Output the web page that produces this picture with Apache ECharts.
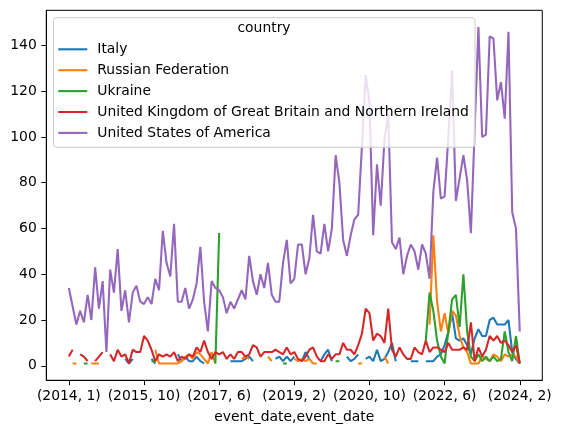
<!DOCTYPE html>
<html>
<head>
<meta charset="utf-8">
<script src="https://cdn.jsdelivr.net/npm/echarts@6/dist/echarts.min.js"></script>
<style>
  html, body { margin: 0; padding: 0; background: #fff; }
  #chart { width: 561px; height: 433px; }
</style>
</head>
<body>
<div id="chart"></div>
<script>
// monthly counts, positions 0..120 along the (year, month) index
var tickPositions = [0, 20, 40, 60, 80, 100, 120];
var tickLabels = ['(2014, 1)', '(2015, 10)', '(2017, 6)', '(2019, 2)', '(2020, 10)', '(2022, 6)', '(2024, 2)'];
var yTicks = [0, 20, 40, 60, 80, 100, 120, 140];
var countries = ['Italy', 'Russian Federation', 'Ukraine',
  'United Kingdom of Great Britain and Northern Ireland', 'United States of America'];
var colors = ['#1f77b4', '#ff7f0e', '#2ca02c', '#d62728', '#9467bd'];

var italy = [
  null, null, null, null, null, null, null, null, null, null,
  null, null, null, null, null, 3, 1, 3, null, null,
  null, null, 3, 1, null, null, null, null, null, 5,
  2, 4, 2, 2, 4, 2, 1, null, null, null,
  null, null, null, 2, 2, 2, 2, 3, 4, 2,
  null, null, null, null, null, 3, 4, 2, 4, 2,
  4, null, 2, 6, 3, null, null, 2, 5, 7,
  2, null, null, null, 4, 2, 3, 5, null, 3,
  4, 2, 7, 2, 3, 6, 10, 2, null, null,
  null, 2, 2, 2, null, 2, 2, 2, 4, 5,
  9, 15, 23, 12, 11, 12, 9, 5, 12, 16,
  13, 13, 20, 21, 18, 18, 18, 20, 6, 3, 1
];
var russia = [
  null, 1, 1, null, null, null, 1, 1, 1, null,
  null, null, null, null, null, null, null, null, null, null,
  null, null, null, 7, 1, 1, 1, 1, 1, 1,
  2, 4, 5, 3, 6, 5, 3, 1, 6, 1,
  null, null, null, null, null, null, 3, 4, 3, null,
  null, null, null, 4, 2, null, null, null, null, null,
  3, 2, 3, 2, 3, 1, 1, null, null, null,
  null, null, null, null, null, null, null, 1, 1, null,
  null, null, null, null, 4, 1, null, null, null, null,
  null, null, null, null, null, null, 18, 57, 28, 15,
  23, 14, 24, 22, 13, 8, 6, 1, 1, 1,
  4, 3, 2, 5, 4, 2, 5, 4, 5, 4, 1
];
var ukraine = [
  null, null, null, null, 1, 1, null, null, null, null,
  null, null, null, null, null, null, null, null, null, null,
  null, null, 2, 2, null, null, null, null, null, null,
  null, null, null, null, null, null, null, null, null, 1,
  58, null, null, null, null, null, null, null, null, null,
  null, null, null, null, null, null, null, 1, 1, null,
  null, null, null, null, null, null, null, null, null, null,
  null, 2, 2, null, null, null, null, null, null, null,
  null, null, null, null, null, null, null, null, null, null,
  null, null, null, null, null, 11, 32, 24, 11, 4,
  1, 15, 29, 31, 17, 40, 15, 4, 2, 5,
  2, 4, 2, 4, 2, 3, 15, 6, 2, 13, 1
];
var uk = [
  4, 7, null, 5, 4, 2, null, 2, 4, 6,
  null, 5, 2, 7, 4, 5, 1, 7, 6, 6,
  13, 11, 7, 2, 5, 4, 5, 4, 6, 2,
  4, 3, 5, 4, 8, 6, 11, 6, 3, 6,
  5, 6, 3, 5, 3, 6, 6, 4, 5, 9,
  8, 4, 6, 6, 6, 7, 6, 5, 8, 5,
  6, 3, 2, 4, 7, 8, 4, 2, 2, 5,
  3, 5, 5, 10, 7, 7, 5, 9, 14, 25,
  23, 11, 14, 13, 10, 25, 7, 4, 8, 5,
  3, 3, 8, 6, 5, 11, 6, 8, 8, 7,
  6, 10, 7, 7, 7, 8, 7, 19, 2, 8,
  4, 7, 13, 11, 13, 10, 11, 9, 6, 9, 1
];
var usa = [
  34, 26, 18, 24, 19, 31, 20, 43, 25, 37,
  6, 42, 32, 51, 24, 33, 19, 32, 35, 28,
  27, 30, 27, 38, 33, 59, 45, 39, 62, 28,
  28, 34, 25, 29, 36, 52, 28, 15, 37, 34,
  33, 30, 23, 28, 25, 29, 33, 29, 48, 37,
  31, 40, 34, 45, 31, 28, 28, 45, 55, 36,
  38, 53, 53, 40, 47, 66, 50, 49, 62, 50,
  60, 92, 80, 55, 48, 57, 64, 66, 96, 127,
  115, 57, 88, 70, 99, 110, 54, 51, 56, 40,
  48, 53, 50, 42, 53, 49, 38, 76, 91, 73,
  74, 100, 129, 72, 82, 92, 81, 58, 103, 148,
  100, 101, 144, 143, 116, 124, 108, 146, 67, 60, 15
];

var seriesValues = [italy, russia, ukraine, uk, usa];
var font = 'DejaVu Sans';
var fs = 13.9;

function pairs(arr) {
  return arr.map(function (v, i) { return [i, v]; });
}

var chart = echarts.init(document.getElementById('chart'), null, { renderer: 'canvas' });
chart.setOption({
  animation: false,
  backgroundColor: '#fff',
  textStyle: { fontFamily: font },
  grid: {
    left: 46.3, right: 18.7, top: 10.3, bottom: 52.7,
    show: true, borderColor: '#000', borderWidth: 1, backgroundColor: 'transparent'
  },
  xAxis: {
    type: 'value',
    min: -6, max: 126,
    name: 'event_date,event_date',
    nameLocation: 'middle',
    nameGap: 30,
    nameTextStyle: { color: '#000', fontSize: fs, fontFamily: font },
    axisLine: { onZero: false, lineStyle: { color: '#000', width: 1 } },
    axisTick: { show: true, length: 4.9, lineStyle: { color: '#000', width: 1 }, customValues: tickPositions },
    axisLabel: {
      color: '#000', fontSize: fs, fontFamily: font, margin: 9.5,
      customValues: tickPositions,
      formatter: function (v) {
        var k = tickPositions.indexOf(Math.round(v));
        return k >= 0 ? tickLabels[k] : '';
      }
    },
    splitLine: { show: false }
  },
  yAxis: {
    type: 'value',
    min: -6.35, max: 155.35,
    axisLine: { show: true, onZero: false, lineStyle: { color: '#000', width: 1 } },
    axisTick: { show: true, length: 4.9, lineStyle: { color: '#000', width: 1 }, customValues: yTicks },
    axisLabel: { color: '#000', fontSize: fs, fontFamily: font, margin: 9.5, customValues: yTicks },
    splitLine: { show: false }
  },
  legend: {
    orient: 'vertical',
    left: 58.3, top: 42.3,
    padding: 0,
    icon: 'rect',
    itemWidth: 29, itemHeight: 2.1, itemGap: 6.9,
    z: 5,
    textStyle: { color: '#000', fontSize: fs, fontFamily: font, lineHeight: 14, padding: [0, 0, 0, 5] },
    data: countries
  },
  graphic: [
    {
      type: 'rect', z: 4, silent: true,
      shape: { x: 53.5, y: 17.7, width: 421.5, height: 129.6, r: 3 },
      style: { fill: 'rgba(255,255,255,0.8)', stroke: '#cccccc', lineWidth: 1 }
    },
    {
      type: 'text', z: 5, silent: true,
      x: 264, y: 28.5,
      style: { text: 'country', fill: '#000', font: fs + 'px "' + font + '"', textAlign: 'center', textVerticalAlign: 'middle' }
    }
  ],
  series: seriesValues.map(function (vals, k) {
    return {
      name: countries[k],
      type: 'line',
      data: pairs(vals),
      showSymbol: false,
      symbol: 'none',
      connectNulls: false,
      color: colors[k],
      lineStyle: { width: 2.08, color: colors[k] },
      emphasis: { disabled: true }
    };
  })
});
</script>
</body>
</html>
